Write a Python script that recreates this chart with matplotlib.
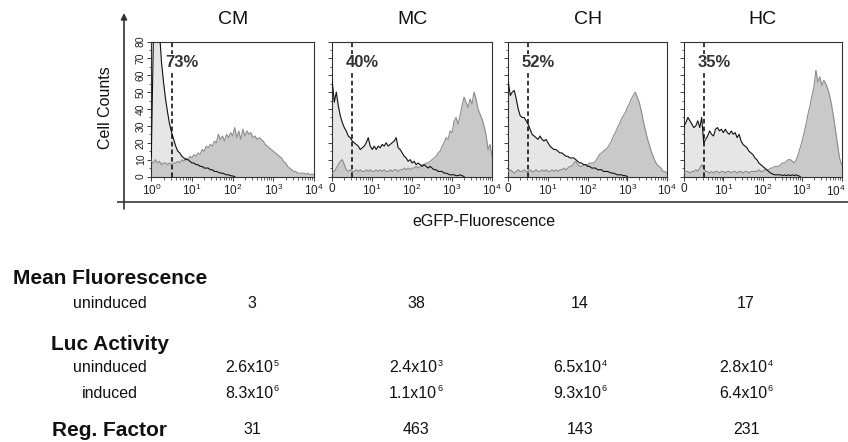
import numpy as np
import matplotlib
matplotlib.use("Agg")
import matplotlib.pyplot as plt
from matplotlib.ticker import LogLocator, NullFormatter, FixedLocator

plt.rcParams['font.family'] = ['Liberation Sans', 'DejaVu Sans']
plt.rcParams['mathtext.fontset'] = 'custom'
plt.rcParams['mathtext.rm'] = 'Liberation Sans'
plt.rcParams['mathtext.it'] = 'Liberation Sans:italic'
plt.rcParams['mathtext.bf'] = 'Liberation Sans:bold'

# ---------------- data ----------------
panels = ['CM', 'MC', 'CH', 'HC']
percent = ['73%', '40%', '52%', '35%']
gate_decade = 0.5          # dashed gate position (log10 fluorescence)
step = 0.05                # histogram bin spacing in decades
y_ticks = [0, 10, 20, 30, 40, 50, 60, 70, 80]

# uninduced histograms (black line, light fill), bins from 10^0 upward
U1 = [12, 80, 86, 84, 86, 68, 56, 46, 38, 31, 26, 22, 18, 15, 14, 12, 11, 10, 10, 9,
      8, 8, 7, 7, 6, 6, 5, 5, 5, 4, 4, 3, 3, 2.5, 2, 2, 1.5, 1, 1, 0.5, 0.3, 0]
U2 = [56, 44, 50, 42, 36, 32, 29, 27, 24, 23, 21, 20, 19, 18, 16, 17, 18, 20, 23, 18,
      16, 18, 16, 18, 17, 19, 18, 20, 18, 19, 20, 21, 23, 17, 16, 14, 12, 11, 9, 10,
      8, 9, 7, 8, 7, 6, 7, 6, 5, 6, 5, 4, 4, 3, 3, 3, 2, 2, 1.5, 1, 1, 1, 0.5, 0.5,
      1, 0.5, 0]
U3 = [56, 48, 50, 51, 46, 40, 36, 35, 35, 33, 31, 28, 25, 24, 23, 22, 24, 22, 21, 22,
      20, 18, 17, 16, 16, 15, 14, 14, 13, 12, 12, 11, 11, 11, 10, 9, 8, 8, 7, 7,
      6, 6, 5, 5, 5, 4, 4, 4, 3, 3, 3, 2.5, 2, 2, 1.5, 1, 1, 1, 0.5, 0.5, 0]
U4 = [30, 32, 35, 33, 31, 29, 30, 33, 29, 35, 20, 22, 24, 27, 25, 24, 28, 29, 27, 28,
      26, 28, 26, 25, 27, 25, 26, 23, 25, 21, 19, 18, 17, 15, 14, 13, 11, 10, 8, 7,
      6, 5, 4, 3, 2, 1.5, 1, 1, 1, 1, 0.5, 1, 0.5, 1, 0.5, 1, 0.5, 1, 0.5, 0]

# induced histograms (gray line, darker fill)
I1 = [9, 8, 10, 8, 9, 7, 8, 8, 7, 8, 7, 8, 8, 9, 8, 10, 9, 11, 10, 12,
      11, 13, 12, 14, 13, 16, 15, 18, 17, 19, 18, 21, 20, 25, 22, 24, 21, 25, 23, 26,
      24, 29, 23, 27, 22, 28, 24, 27, 25, 26, 23, 24, 22, 23, 22, 21, 19, 18, 17, 16,
      15, 14, 13, 12, 11, 9, 8, 6, 5, 4, 3, 3, 2, 2, 2, 2, 1.5, 2, 1, 1.5, 1]
I2 = [2, 3, 5, 7, 9, 10, 7, 4, 3, 4, 3, 3, 4, 3, 4, 3, 3, 4, 3, 4,
      3, 3, 4, 3, 4, 3, 4, 3, 3, 4, 3, 4, 4, 3, 4, 4, 5, 4, 5, 4,
      5, 5, 6, 5, 6, 7, 7, 8, 8, 9, 10, 11, 12, 14, 15, 18, 20, 23, 22, 27,
      26, 33, 35, 31, 36, 42, 47, 44, 41, 46, 43, 50, 46, 40, 37, 34, 30, 25, 16, 19, 12]
I3 = [3, 4, 3, 2, 3, 4, 3, 3, 4, 3, 3, 4, 3, 3, 4, 3, 3, 4, 3, 4,
      3, 3, 4, 3, 4, 3, 4, 4, 5, 4, 5, 6, 6, 8, 9, 7, 6, 6, 7, 7,
      7, 8, 8, 8, 9, 11, 13, 14, 15, 16, 17, 19, 21, 24, 26, 29, 31, 34, 36, 38,
      41, 43, 46, 48, 50, 47, 44, 39, 33, 28, 23, 19, 15, 12, 9, 7, 6, 5, 3, 3, 2]
I4 = [2, 3, 3, 2, 3, 3, 4, 3, 5, 7, 5, 3, 3, 2, 3, 2, 3, 3, 2, 3,
      3, 2, 3, 3, 2, 3, 3, 2, 3, 3, 2, 3, 3, 2, 3, 3, 3, 3, 4, 3,
      3, 4, 4, 4, 5, 5, 6, 6, 6, 7, 8, 8, 9, 10, 10, 9, 8, 10, 13, 17,
      21, 26, 31, 37, 42, 48, 53, 63, 56, 59, 54, 57, 55, 52, 48, 42, 35, 27, 19, 11, 7]

uninduced = [U1, U2, U3, U4]
induced = [I1, I2, I3, I4]

# table
mean_fluor = [3, 38, 14, 17]
luc_un_mant = [2.6, 2.4, 6.5, 2.8]
luc_un_exp = [5, 3, 4, 4]
luc_in_mant = [8.3, 1.1, 9.3, 6.4]
luc_in_exp = [6, 6, 6, 6]
reg_factor = [31, 463, 143, 231]

# ---------------- figure ----------------
W, H = 848, 442
fig = plt.figure(figsize=(W / 100, H / 100), dpi=100)

ov = fig.add_axes([0, 0, 1, 1])
ov.set_xlim(0, W)
ov.set_ylim(H, 0)
ov.axis('off')
ov.set_zorder(-1)

light_fill = '#e6e6e6'
dark_fill = '#c9c9c9'
gray_line = '#8c8c8c'
txt = '#111111'

lefts = [151.3, 332.3, 508.3, 684.0]
rights = [314.0, 492.0, 667.0, 841.5]
top_px, bot_px = 41.5, 176.5

for i in range(4):
    l, r = lefts[i], rights[i]
    ax = fig.add_axes([l / W, 1 - bot_px / H, (r - l) / W, (bot_px - top_px) / H])
    u = np.array(uninduced[i], dtype=float)
    g = np.array(induced[i], dtype=float)
    xu = 10 ** (np.arange(len(u)) * step)
    xg = 10 ** (np.arange(len(g)) * step)
    ax.fill_between(xu, u, 0, color=light_fill, lw=0, zorder=1)
    ax.fill_between(xg, g, 0, color=dark_fill, lw=0, zorder=2)
    ax.plot(xg, g, color=gray_line, lw=0.8, zorder=3)
    ax.plot(xu, u, color='#111111', lw=0.8, zorder=4)
    gx = 10 ** gate_decade
    ax.plot([gx, gx], [0, 79], color='black', lw=1.1, ls=(0, (3, 2)), zorder=5)
    ax.text(10 ** 0.34, 67.5, percent[i], fontsize=12, fontweight='bold', color='#333333',
            ha='left', va='center', zorder=6,
            bbox=dict(facecolor='white', edgecolor='none', pad=0.6))
    ax.set_xscale('log')
    ax.set_xlim(1, 1e4)
    ax.set_ylim(0, 80)
    ax.xaxis.set_major_locator(FixedLocator([1, 10, 100, 1000, 10000]))
    ax.xaxis.set_minor_locator(LogLocator(base=10, subs=np.arange(2, 10), numticks=20))
    ax.xaxis.set_minor_formatter(NullFormatter())
    first = r'$\mathregular{10^{0}}$' if i == 0 else '0'
    labels = [first] + [r'$\mathregular{10^{%d}}$' % k for k in range(1, 5)]
    if i == 3:
        labels[-1] = ''
    ax.set_xticklabels(labels)
    ax.yaxis.set_major_locator(FixedLocator(y_ticks))
    ax.yaxis.set_minor_locator(FixedLocator([v + 5 for v in y_ticks[:-1]]))
    if i == 0:
        ax.set_yticklabels([str(v) for v in y_ticks], rotation=90, va='center')
    else:
        ax.set_yticklabels([])
    ax.tick_params(which='major', direction='out', length=3, width=0.6, labelsize=8.5,
                   pad=1.5, colors='#222222')
    ax.tick_params(which='minor', direction='out', length=1.8, width=0.5, colors='#222222')
    ax.tick_params(axis='y', labelsize=7.5, pad=1)
    for s in ax.spines.values():
        s.set_linewidth(0.8)
        s.set_color('#333333')
    if i == 3:
        ax.annotate(r'$\mathregular{10^{4}}$', xy=(1, 0), xycoords='axes fraction',
                    xytext=(-4, -5), textcoords='offset points', ha='center', va='top',
                    fontsize=8.5, color='#222222', annotation_clip=False)
    ov.text((l + r) / 2, 19, panels[i], fontsize=14, ha='center', va='center', color=txt)

# outer frame: vertical arrow and horizontal line
ov.annotate('', xy=(124, 13), xytext=(124, 209),
            arrowprops=dict(arrowstyle='-|>', color='#333333', lw=1.2, mutation_scale=9,
                            shrinkA=0, shrinkB=0))
ov.plot([118, W], [202, 202], color='#555555', lw=1.4)
ov.text(106, 108, 'Cell Counts', fontsize=11.5, rotation=90, ha='center', va='center', color=txt)
ov.text(484, 221, 'eGFP-Fluorescence', fontsize=11.5, ha='center', va='center', color=txt)

# table
cols = [252, 416, 580, 746]
lab_x = 110
hdr = 15
val = 11.5
ov.text(lab_x, 278, 'Mean Fluorescence', fontsize=hdr, fontweight='bold', ha='center', va='center', color=txt)
ov.text(lab_x, 303, 'uninduced', fontsize=val, ha='center', va='center', color=txt)
ov.text(lab_x, 345, 'Luc Activity', fontsize=hdr, fontweight='bold', ha='center', va='center', color=txt)
ov.text(lab_x, 368, 'uninduced', fontsize=val, ha='center', va='center', color=txt)
ov.text(lab_x, 393, 'induced', fontsize=val, ha='center', va='center', color=txt)
ov.text(lab_x, 430, 'Reg. Factor', fontsize=hdr, fontweight='bold', ha='center', va='center', color=txt)


def sci(x, y, mant, exp):
    base = ov.text(x - 3, y, '%.1fx10' % mant, fontsize=val, ha='center', va='center', color=txt)
    ov.annotate(str(exp), xy=(1, 0.78), xycoords=base, xytext=(0.5, 0),
                textcoords='offset points', fontsize=6.5, ha='left', va='center', color=txt)


for j in range(4):
    ov.text(cols[j], 303, str(mean_fluor[j]), fontsize=val, ha='center', va='center', color=txt)
    sci(cols[j], 368, luc_un_mant[j], luc_un_exp[j])
    sci(cols[j], 393, luc_in_mant[j], luc_in_exp[j])
    ov.text(cols[j], 430, str(reg_factor[j]), fontsize=val, ha='center', va='center', color=txt)

fig.savefig('out.png', dpi=100)
